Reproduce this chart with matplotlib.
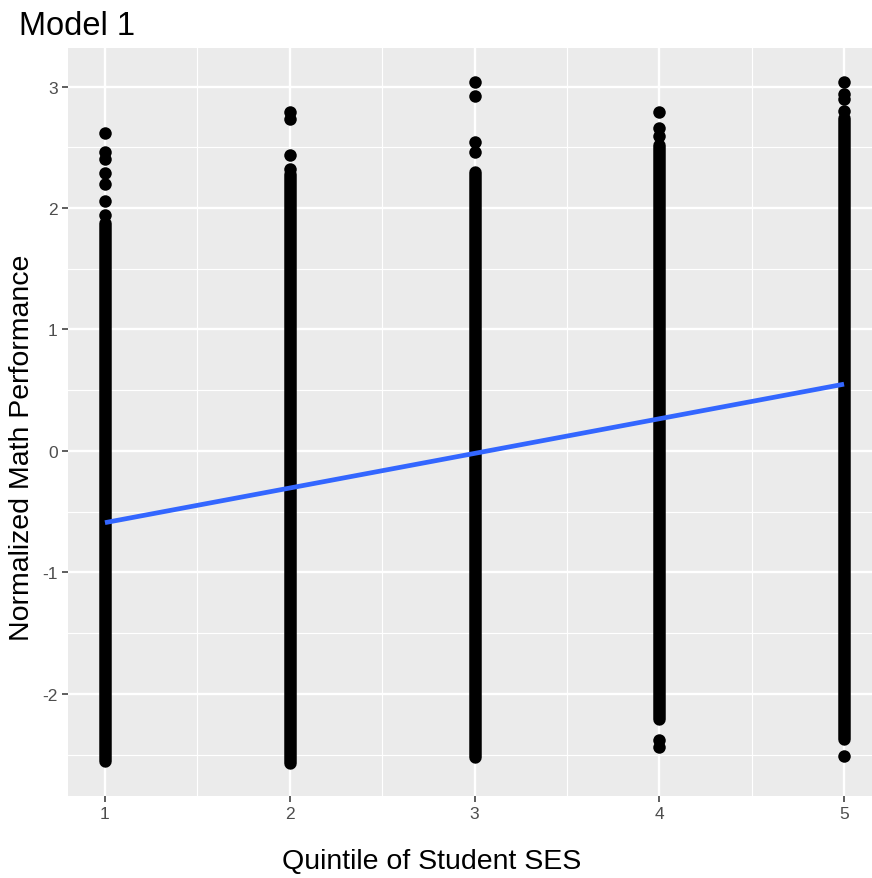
import matplotlib.pyplot as plt
from matplotlib.ticker import MultipleLocator

plt.rcParams['font.family'] = ['Liberation Sans', 'DejaVu Sans']
plt.rcParams['axes.unicode_minus'] = False

# quintiles of student SES
quintile = [1, 2, 3, 4, 5]

# span of the solid run of points in each quintile
dense_top = [1.88, 2.28, 2.30, 2.52, 2.74]
dense_bottom = [-2.55, -2.57, -2.52, -2.21, -2.37]

# the scattered points that sit apart from each run
sparse_q1 = [2.62, 2.46, 2.40, 2.29, 2.20, 2.06, 1.94]
sparse_q2 = [2.79, 2.73, 2.44, 2.32]
sparse_q3 = [3.04, 2.92, 2.54, 2.46]
sparse_q4 = [2.79, 2.66, 2.59, -2.38, -2.44]
sparse_q5 = [3.04, 2.94, 2.90, 2.80, -2.51]
sparse = [sparse_q1, sparse_q2, sparse_q3, sparse_q4, sparse_q5]

# linear fit
fit_x = [1, 5]
fit_y = [-0.59, 0.55]

fig = plt.figure(figsize=(8.72, 8.79), dpi=100)
ax = fig.add_axes([68 / 872, 82 / 879, 813 / 872, 748 / 879])
ax.set_facecolor('#EBEBEB')

pt = 9.0  # point diameter in points

for q, top, bot, pts in zip(quintile, dense_top, dense_bottom, sparse):
    ax.plot([q, q], [bot, top], color='black', lw=pt, solid_capstyle='round', zorder=3)
    ax.plot([q] * len(pts), pts, 'o', color='black', ms=pt, mew=0, zorder=3)

ax.plot(fit_x, fit_y, color='#3366FF', lw=3.4, zorder=4, solid_capstyle='butt')

ax.set_xlim(0.8, 5.2)
ax.set_ylim(-2.84, 3.317)
ax.xaxis.set_major_locator(MultipleLocator(1))
ax.xaxis.set_minor_locator(MultipleLocator(0.5))
ax.yaxis.set_major_locator(MultipleLocator(1))
ax.yaxis.set_minor_locator(MultipleLocator(0.5))

ax.grid(which='major', color='white', lw=1.7)
ax.grid(which='minor', color='white', lw=0.8)
ax.set_axisbelow(True)
for s in ax.spines.values():
    s.set_visible(False)

ax.tick_params(which='major', length=4.5, width=1.1, color='#333333',
               labelsize=12.5, labelcolor='#4D4D4D', pad=3)
ax.tick_params(which='minor', length=0)

fig.text(19 / 872, 1 - 35 / 879, 'Model 1', fontsize=23.5, va='baseline', ha='left')
fig.text(432 / 872, 1 - 862 / 879, 'Quintile of Student SES', fontsize=20.5,
         ha='center', va='center')
fig.text(22 / 872, 1 - 448 / 879, 'Normalized Math Performance', fontsize=20.5,
         ha='center', va='center', rotation=90)

fig.savefig('out.png', dpi=100)
